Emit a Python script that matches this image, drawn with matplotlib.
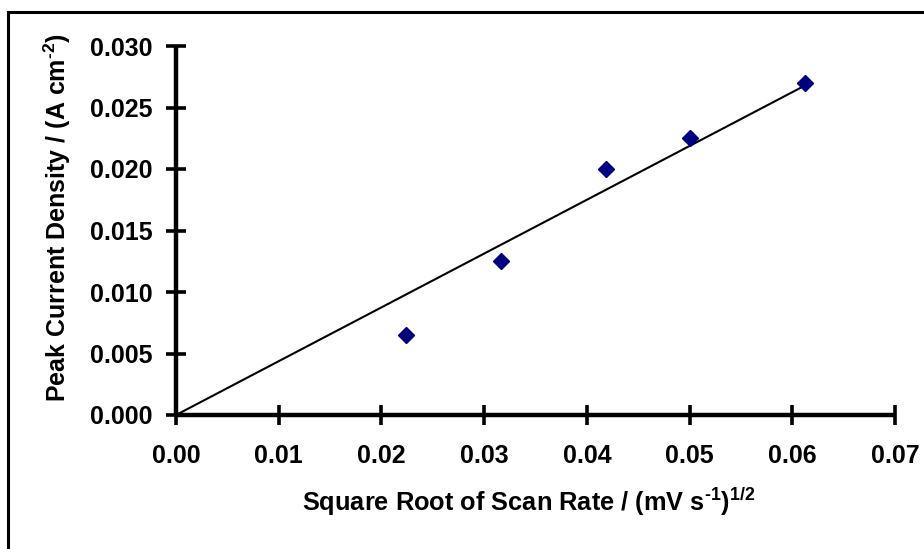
import numpy as np
import matplotlib
matplotlib.use("Agg")
import matplotlib.pyplot as plt
from matplotlib.patches import Rectangle

plt.rcParams['font.family'] = ['Liberation Sans', 'DejaVu Sans']
plt.rcParams['font.weight'] = 'bold'
plt.rcParams['axes.labelweight'] = 'bold'
plt.rcParams['mathtext.fontset'] = 'custom'
plt.rcParams['mathtext.rm'] = 'Liberation Sans:bold'
plt.rcParams['mathtext.bf'] = 'Liberation Sans:bold'
plt.rcParams['mathtext.it'] = 'Liberation Sans:bold'
plt.rcParams['mathtext.default'] = 'rm'

# data
sqrt_scan = [0.02236, 0.03162, 0.04183, 0.05000, 0.06124]
peak_current = [0.0065, 0.0125, 0.0200, 0.0225, 0.0270]
x_ticks = [0.00, 0.01, 0.02, 0.03, 0.04, 0.05, 0.06, 0.07]
y_ticks = [0.000, 0.005, 0.010, 0.015, 0.020, 0.025, 0.030]

x = np.array(sqrt_scan)
y = np.array(peak_current)
# linear fit forced through origin
slope = np.sum(x * y) / np.sum(x * x)
xf = np.array([0, x.max()])
yf = slope * xf

W, H = 924, 549
fig = plt.figure(figsize=(W / 100, H / 100), dpi=100)
ax = fig.add_axes([176 / W, (H - 415) / H, (895 - 176) / W, (415 - 46) / H])

ax.plot(xf, yf, color='black', lw=1.5, zorder=2)
ax.plot(x, y, 'D', color='#000080', markersize=8, zorder=3, clip_on=False)

ax.set_xlim(0, 0.07)
ax.set_ylim(0, 0.030)
ax.set_xticks(x_ticks)
ax.set_yticks(y_ticks)
ax.set_xticklabels(['%.2f' % v for v in x_ticks])
ax.set_yticklabels(['%.3f' % v for v in y_ticks])

for s in ['top', 'right']:
    ax.spines[s].set_visible(False)
for s in ['left', 'bottom']:
    ax.spines[s].set_linewidth(3.2)
    ax.spines[s].set_capstyle('butt')
ax.tick_params(direction='inout', length=15, width=2.6, labelsize=18)
ax.tick_params(axis='x', pad=13.5)
ax.tick_params(axis='y', pad=9.5)

ax.set_xlabel(r'Square Root of Scan Rate / (mV s$^{\text{-1}}$)$^{1/2}$', fontsize=18.3)
ax.set_ylabel(r'Peak Current Density / (A cm$^{\text{-2}}$)', fontsize=18)
ax.xaxis.set_label_coords(0.49, (415 - 486) / 369)
ax.yaxis.set_label_coords((73 - 176) / 719, 0.534)

fig.patches.append(Rectangle((8 / W, -0.1), 1.2, (H - 12) / H + 0.1,
                             transform=fig.transFigure, fill=False,
                             edgecolor='black', lw=2.2))

fig.savefig('out.png', dpi=100)
